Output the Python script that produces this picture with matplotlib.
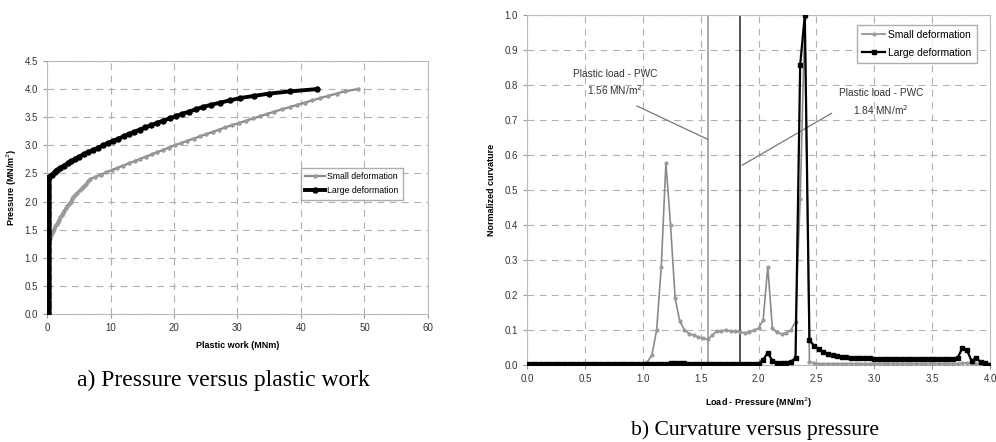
import numpy as np
import matplotlib
matplotlib.use("Agg")
import matplotlib.pyplot as plt

plt.rcParams["font.family"] = ["Liberation Sans", "DejaVu Sans"]

# load steps (MN/m^2), shared by both panels
pressure = np.linspace(0.0, 4.0, 101)

# plastic work (MNm) at each load step
work_small = [
    0, 0, 0, 0, 0, 0, 0, 0, 0, 0,
    0, 0, 0, 0, 0, 0, 0, 0, 0, 0,
    0, 0, 0, 0, 0, 0, 0, 0, 0, 0.02,
    0.05, 0.1, 0.2, 0.35, 0.5, 0.65, 0.8, 0.95, 1.1, 1.3,
    1.5, 1.7, 1.9, 2.1, 2.3, 2.5, 2.7, 2.95, 3.2, 3.45,
    3.7, 3.9, 4.1, 4.45, 4.8, 5.15, 5.5, 5.85, 6.2, 6.5,
    6.8, 7.6, 8.5, 9.35, 10.2, 11.1, 12.0, 12.9, 13.8, 14.7,
    15.6, 16.5, 17.4, 18.3, 19.2, 20.1, 21.1, 22.1, 23.1, 24.1,
    25.1, 26.1, 27.1, 28.1, 29.2, 30.3, 31.4, 32.5, 33.6, 34.7,
    35.8, 37.0, 38.2, 39.4, 40.6, 41.8, 43.0, 44.3, 45.6, 46.9,
    48.9,
]
work_large = [
    0.1, 0.1, 0.1, 0.1, 0.1, 0.1, 0.1, 0.1, 0.1, 0.1,
    0.1, 0.1, 0.1, 0.1, 0.1, 0.1, 0.1, 0.1, 0.1, 0.1,
    0.1, 0.1, 0.1, 0.1, 0.1, 0.1, 0.1, 0.1, 0.1, 0.1,
    0.1, 0.1, 0.1, 0.1, 0.1, 0.1, 0.1, 0.1, 0.1, 0.1,
    0.1, 0.1, 0.1, 0.1, 0.1, 0.1, 0.1, 0.1, 0.1, 0.1,
    0.1, 0.1, 0.1, 0.1, 0.1, 0.1, 0.1, 0.1, 0.1, 0.15,
    0.2, 0.3, 0.75, 1.2, 1.65, 2.1, 2.7, 3.3, 3.85, 4.45,
    5.0, 5.8, 6.5, 7.3, 8.1, 8.85, 9.6, 10.4, 11.25, 12.1,
    12.9, 13.75, 14.6, 15.5, 16.4, 17.4, 18.3, 19.3, 20.3, 21.3,
    22.4, 23.4, 24.5, 25.8, 27.3, 28.8, 30.4, 32.6, 35.0, 38.3,
    42.5,
]

# normalized curvature at each load step
curv_small = [
    0.002, 0.002, 0.002, 0.002, 0.002, 0.002, 0.002, 0.002, 0.002, 0.002,
    0.002, 0.002, 0.002, 0.002, 0.002, 0.002, 0.002, 0.002, 0.002, 0.002,
    0.002, 0.002, 0.002, 0.002, 0.003, 0.004, 0.008, 0.03, 0.10, 0.28,
    0.578, 0.40, 0.19, 0.125, 0.10, 0.09, 0.085, 0.08, 0.076, 0.073,
    0.085, 0.097, 0.098, 0.099, 0.097, 0.096, 0.094, 0.092, 0.094, 0.099,
    0.105, 0.128, 0.281, 0.105, 0.093, 0.089, 0.091, 0.10, 0.124, 0.475,
    0.99, 0.01, 0.005, 0.004, 0.004, 0.004, 0.004, 0.004, 0.004, 0.004,
    0.004, 0.004, 0.004, 0.004, 0.004, 0.004, 0.004, 0.004, 0.004, 0.004,
    0.004, 0.004, 0.004, 0.004, 0.004, 0.004, 0.004, 0.004, 0.004, 0.004,
    0.004, 0.004, 0.004, 0.004, 0.006, 0.006, 0.004, 0.004, 0.004, 0.004,
    0.002,
]
curv_large = [
    0.002, 0.002, 0.002, 0.002, 0.002, 0.002, 0.002, 0.002, 0.002, 0.002,
    0.002, 0.002, 0.002, 0.002, 0.002, 0.002, 0.002, 0.002, 0.002, 0.002,
    0.002, 0.002, 0.002, 0.002, 0.002, 0.002, 0.003, 0.003, 0.004, 0.004,
    0.004, 0.005, 0.006, 0.006, 0.005, 0.004, 0.004, 0.004, 0.004, 0.004,
    0.004, 0.004, 0.004, 0.004, 0.004, 0.004, 0.004, 0.004, 0.004, 0.004,
    0.004, 0.015, 0.035, 0.012, 0.007, 0.006, 0.007, 0.01, 0.02, 0.857,
    1.0, 0.071, 0.055, 0.045, 0.038, 0.032, 0.028, 0.025, 0.023, 0.022,
    0.021, 0.02, 0.02, 0.019, 0.019, 0.018, 0.018, 0.018, 0.018, 0.018,
    0.018, 0.018, 0.018, 0.018, 0.018, 0.018, 0.018, 0.018, 0.018, 0.018,
    0.018, 0.018, 0.018, 0.02, 0.048, 0.043, 0.012, 0.02, 0.008, 0.007,
    0.0,
]

pwc_small = 1.56
pwc_large = 1.84

GRID = dict(color="#b0b0b0", ls=(0, (6, 5)), lw=0.8)
TICK_FS = 7
LABEL_FS = 6.5

fig = plt.figure(figsize=(9.96, 4.42), dpi=100)

# ---- a) pressure vs plastic work
ax1 = fig.add_axes([0.0472, 0.2896, 0.3825, 0.5724])
ax1.plot(work_small, pressure, color="#8a8a8a", lw=1.6, marker="o", ms=2.2,
         mfc="#9a9a9a", mec="#9a9a9a", label="Small deformation", zorder=3)
ax1.plot(work_large, pressure, color="black", lw=2.8, marker="o", ms=3.6,
         label="Large deformation", zorder=4)
ax1.set_xlim(0, 60)
ax1.set_ylim(0, 4.5)
ax1.set_xticks(np.arange(0, 61, 10))
ax1.set_yticks(np.arange(0, 4.51, 0.5))
ax1.set_yticklabels([f"{v:.1f}" for v in np.arange(0, 4.51, 0.5)])
ax1.grid(True, **GRID)
ax1.set_xlabel("Plastic work (MNm)", fontsize=LABEL_FS, fontweight="bold", labelpad=6)
ax1.set_ylabel("Pressure (MN/m$^{2}$)", fontsize=LABEL_FS, fontweight="bold", labelpad=4)
ax1.legend(loc="upper left", bbox_to_anchor=(0.655, 0.595), fontsize=6.3,
           frameon=True, fancybox=False, edgecolor="#999999", handlelength=2.2,
           borderpad=0.5, labelspacing=0.6, handletextpad=0.3)

# ---- b) curvature vs pressure
ax2 = fig.add_axes([0.5291, 0.1742, 0.4649, 0.7919])
ax2.plot(pressure, curv_small, color="#8a8a8a", lw=1.2, marker="o", ms=2.0,
         mfc="#9a9a9a", mec="#9a9a9a", label="Small deformation", zorder=3)
ax2.plot(pressure, curv_large, color="black", lw=1.6, marker="s", ms=2.6,
         label="Large deformation", zorder=4)
ax2.axvline(pwc_small, color="#999999", lw=1.2, zorder=2)
ax2.axvline(pwc_large, color="#333333", lw=1.2, zorder=2)
ax2.set_xlim(0, 4.0)
ax2.set_ylim(0, 1.0)
ax2.set_xticks(np.arange(0, 4.01, 0.5))
ax2.set_xticklabels([f"{v:.1f}" for v in np.arange(0, 4.01, 0.5)])
ax2.set_yticks(np.arange(0, 1.01, 0.1))
ax2.set_yticklabels([f"{v:.1f}" for v in np.arange(0, 1.01, 0.1)])
ax2.grid(True, **GRID)
ax2.set_xlabel("Load - Pressure (MN/m$^{2}$)", fontsize=LABEL_FS, fontweight="bold", labelpad=8)
ax2.set_ylabel("Normalized curvature", fontsize=LABEL_FS, fontweight="bold", labelpad=6)
ax2.legend(loc="upper right", bbox_to_anchor=(0.982, 0.987), fontsize=7.4,
           frameon=True, fancybox=False, edgecolor="#999999", handlelength=2.2,
           borderpad=0.5, labelspacing=0.8, handletextpad=0.3)

ax2.text(0.76, 0.83, "Plastic load - PWC", ha="center", va="center", fontsize=7.3, color="#333333")
ax2.text(0.76, 0.785, f"{pwc_small:.2f} MN/m$^{{2}}$", ha="center", va="center", fontsize=7.3, color="#333333")
ax2.plot([0.95, pwc_small], [0.74, 0.645], color="#777777", lw=0.9)
ax2.text(3.06, 0.778, "Plastic load - PWC", ha="center", va="center", fontsize=7.3, color="#333333")
ax2.text(3.06, 0.729, f"{pwc_large:.2f} MN/m$^{{2}}$", ha="center", va="center", fontsize=7.3, color="#333333")
ax2.plot([2.63, 1.86], [0.719, 0.571], color="#777777", lw=0.9)

for ax in (ax1, ax2):
    for s in ax.spines.values():
        s.set_color("#bbbbbb")
    ax.tick_params(labelsize=TICK_FS, colors="#333333", length=3, color="#999999")

fig.text(0.224, 0.14, "a) Pressure versus plastic work", ha="center", va="center",
         fontsize=17, family=["Liberation Serif", "DejaVu Serif"])
fig.text(0.758, 0.027, "b) Curvature versus pressure", ha="center", va="center",
         fontsize=15.6, family=["Liberation Serif", "DejaVu Serif"])

fig.savefig("out.png", dpi=100)
